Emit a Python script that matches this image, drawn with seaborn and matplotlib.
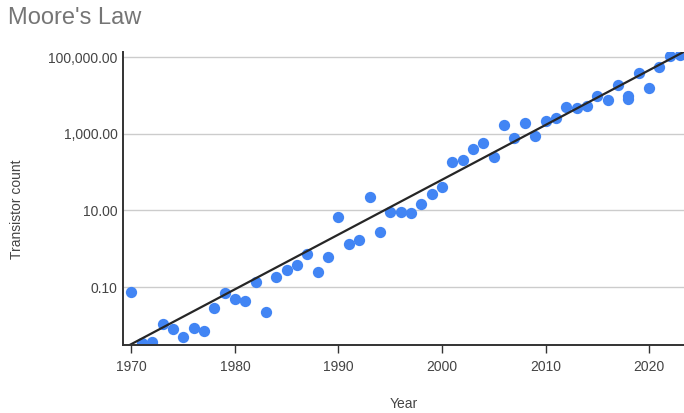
import matplotlib
matplotlib.use("Agg")
import matplotlib.pyplot as plt
import matplotlib.ticker as mticker
import seaborn as sns
import pandas as pd
import numpy as np

# ---- data ----
years = [1970, 1971, 1972, 1973, 1974, 1975, 1976, 1977, 1978, 1979,
         1980, 1981, 1982, 1983, 1984, 1985, 1986, 1987, 1988, 1989,
         1990, 1991, 1992, 1993, 1994, 1995, 1996, 1997, 1998, 1999,
         2000, 2001, 2002, 2003, 2004, 2005, 2006, 2007, 2008, 2009,
         2010, 2011, 2012, 2013, 2014, 2015, 2016, 2017, 2018, 2018,
         2019, 2020, 2021, 2022, 2023]
transistors = [0.074, 0.0035, 0.0037, 0.0106, 0.0079, 0.0050, 0.0085, 0.0070, 0.028, 0.070,
               0.049, 0.044, 0.135, 0.022, 0.186, 0.273, 0.369, 0.71, 0.25, 0.60,
               6.7, 1.33, 1.66, 22.8, 2.73, 8.9, 9.2, 8.7, 15.0, 26.8,
               42, 187, 211, 401, 586, 243, 1700, 764, 1880, 891,
               2200, 2540, 4920, 4860, 5420, 9890, 7640, 19100, 9700, 8110,
               38600, 15400, 56500, 107000, 114000]

trend_years = [1969.2, 2023.4]
trend_values = [0.0025, 1.4e5]

y_ticks = [0.1, 10, 1000, 100000]
x_ticks = [1970, 1980, 1990, 2000, 2010, 2020]

title = "Moore's Law"
x_label = "Year"
y_label = "Transistor count"

df = pd.DataFrame({"Year": years, "Transistor count": transistors})
trend_df = pd.DataFrame({"Year": trend_years, "Trend": trend_values})

# ---- style ----
sns.set_style("white")
plt.rcParams["font.family"] = ["Liberation Sans", "DejaVu Sans"]

fig = plt.figure(figsize=(6.84, 4.13), dpi=100)
ax = fig.add_axes([123 / 684, 1 - 344.5 / 413, (684 - 123) / 684, (344.5 - 52) / 413])

ax.set_yscale("log")
ax.set_xlim(1969.18, 2023.38)
ax.set_ylim(10 ** -2.50, 10 ** 5.136)

ax.set_yticks(y_ticks)
ax.yaxis.set_major_formatter(mticker.FuncFormatter(lambda v, p: f"{v:,.2f}"))
ax.yaxis.set_minor_locator(mticker.NullLocator())
ax.set_xticks(x_ticks)
ax.set_xticklabels([str(t) for t in x_ticks])

ax.grid(axis="y", color="#cccccc", linewidth=1.0)
ax.grid(axis="x", visible=False)
ax.set_axisbelow(True)

sns.scatterplot(data=df, x="Year", y="Transistor count", ax=ax, color="#4285f4",
                s=66, linewidth=0, zorder=3)
sns.lineplot(data=trend_df, x="Year", y="Trend", ax=ax, color="#262626",
             linewidth=1.6, zorder=4)

for side in ["top", "right"]:
    ax.spines[side].set_visible(False)
ax.spines["left"].set_color("#333333")
ax.spines["left"].set_linewidth(1.4)
ax.spines["bottom"].set_color("#333333")
ax.spines["bottom"].set_linewidth(1.4)
ax.spines["bottom"].set_zorder(5)

ax.tick_params(axis="y", length=0, pad=4, labelsize=10, labelcolor="#444444")
ax.tick_params(axis="x", length=6, width=1, color="#333333", direction="out",
               pad=5, labelsize=10, labelcolor="#444444", bottom=True)

ax.set_xlabel(x_label, fontsize=10, color="#444444")
ax.set_ylabel(y_label, fontsize=10, color="#444444")
ax.xaxis.set_label_coords(0.5, -0.18)
ax.yaxis.set_label_coords(-0.177, 0.463)

fig.text(8 / 684, 1 - 18 / 413, title, fontsize=17, color="#757575",
         ha="left", va="center")

fig.savefig("out.png", dpi=100)
